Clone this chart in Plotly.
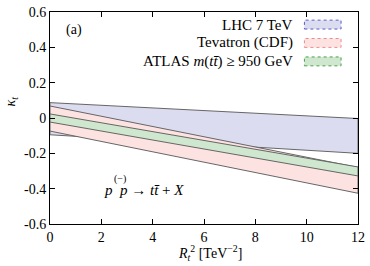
import plotly.graph_objects as go

# ---- data ----
x_ends = [0, 12]
lhc_upper = [0.087, -0.003]
lhc_lower = [-0.095, -0.200]
tev_upper = [0.068, -0.280]
tev_lower = [-0.074, -0.426]
atlas_upper = [0.023, -0.277]
atlas_lower = [-0.023, -0.328]

series_names = ["LHC 7 TeV", "Tevatron (CDF)", "ATLAS <i>m</i>(<i>tt̄</i>) ≥ 950 GeV"]
fill_colors = ["#dcdcf0", "#fde2e2", "#cfe6cf"]
legend_edge = ["#5a5ac8", "#f08a8a", "#48a048"]

x_ticks = [0, 2, 4, 6, 8, 10, 12]
y_ticks = [-0.6, -0.4, -0.2, 0, 0.2, 0.4, 0.6]
y_ticklabels = ["-0.6", "-0.4", "-0.2", "0", "0.2", "0.4", "0.6"]

FONT = "Liberation Serif"
FS = 14

fig = go.Figure()
bands = [(lhc_upper, lhc_lower), (tev_upper, tev_lower), (atlas_upper, atlas_lower)]
for (up, lo), name, fc in zip(bands, series_names, fill_colors):
    xs = list(x_ends) + list(x_ends[::-1]) + [x_ends[0]]
    ys = list(up) + list(lo[::-1]) + [up[0]]
    fig.add_trace(go.Scatter(x=xs, y=ys, fill="toself", fillcolor=fc,
                             line=dict(color="#666666", width=1),
                             mode="lines", name=name, showlegend=False,
                             hoverinfo="skip"))

axis_common = dict(showline=True, linecolor="black", linewidth=1, mirror="ticks",
                   ticks="inside", ticklen=5, tickcolor="black", showgrid=False,
                   zeroline=False, ticklabeloverflow="allow",
                   tickfont=dict(family=FONT, size=FS, color="black"))

fig.update_xaxes(range=[0, 12], tickvals=x_ticks, ticktext=[str(t) for t in x_ticks],
                 **axis_common)
fig.update_yaxes(range=[-0.6, 0.6], tickvals=y_ticks, ticktext=y_ticklabels, **axis_common)

annotations = [
    dict(text="(a)", x=0.045, y=0.913, xref="paper", yref="paper", xanchor="left",
         yanchor="middle", showarrow=False, font=dict(family=FONT, size=FS, color="black")),
    dict(text="<i>κ</i><sub><i>t</i></sub>", x=-0.125, y=0.575, xref="paper", yref="paper",
         xanchor="center", yanchor="middle",
         textangle=-90, showarrow=False, font=dict(family=FONT, size=FS, color="black")),
    dict(text="<i>R</i><sub><i>t</i></sub><sup>2</sup> [TeV<sup>−2</sup>]", x=0.52, y=-0.078,
         xref="paper", yref="paper", xanchor="center", yanchor="top",
         showarrow=False, font=dict(family=FONT, size=FS, color="black")),
    dict(text="<i>p</i>  <i>p</i> → <i>tt̄</i> + <i>X</i>", x=0.306, y=0.160, xref="paper",
         yref="paper", xanchor="center", yanchor="middle",
         showarrow=False, font=dict(family=FONT, size=15, color="black")),
    dict(text="(−)", x=0.228, y=0.212, xref="paper", yref="paper",
         xanchor="center", yanchor="middle",
         showarrow=False, font=dict(family=FONT, size=10, color="black")),
]
shapes = []
rows_y = [0.9406, 0.854, 0.767]
for name, fc, ec, yy in zip(series_names, fill_colors, legend_edge, rows_y):
    annotations.append(dict(text=name, x=0.797, y=yy, xref="paper", yref="paper",
                            xanchor="right", yanchor="middle", showarrow=False,
                            font=dict(family=FONT, size=15, color="black")))
    shapes.append(dict(type="rect", xref="paper", yref="paper", x0=0.826, x1=0.945,
                       y0=yy - 0.021, y1=yy + 0.021, fillcolor=fc,
                       line=dict(color=ec, width=1, dash="dot")))

fig.update_layout(width=370, height=266, margin=dict(l=50, r=10, t=5, b=42),
                  plot_bgcolor="white", paper_bgcolor="white",
                  annotations=annotations, shapes=shapes, showlegend=False,
                  font=dict(family=FONT, size=FS, color="black"))

fig.write_html("out.html", config={"displayModeBar": False},
               post_script="document.body.style.margin='0';document.body.style.overflow='hidden';")
